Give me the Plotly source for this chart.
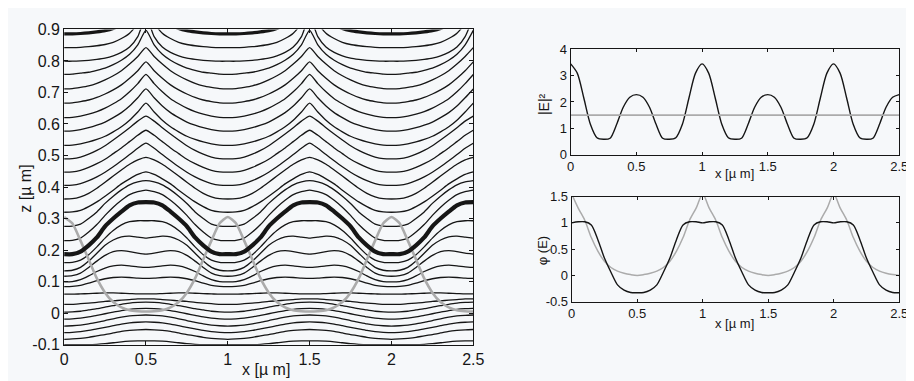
import plotly.graph_objects as go

# ---------------- data ----------------
# Every profile is read at x = 0, 0.05, ..., 0.5 (half a period); the
# figure is periodic (period 1) and mirror-symmetric about x = 0.5.
X_HALF = [0.0, 0.05, 0.1, 0.15, 0.2, 0.25, 0.3, 0.35, 0.4, 0.45, 0.5]

# contour lines above the thick interface line (top to bottom)
U16 = [0.886, 0.886, 0.887, 0.889, 0.892, 0.896, 0.903, 0.915, 0.932, 0.965, 1.03]
U15 = [0.842, 0.842, 0.843, 0.845, 0.848, 0.852, 0.859, 0.871, 0.888, 0.921, 0.985]
U14 = [0.799, 0.799, 0.800, 0.802, 0.805, 0.809, 0.816, 0.827, 0.844, 0.877, 0.940]
U13 = [0.757, 0.758, 0.761, 0.764, 0.770, 0.777, 0.788, 0.802, 0.821, 0.851, 0.897]
U12 = [0.711, 0.712, 0.716, 0.721, 0.729, 0.740, 0.753, 0.769, 0.790, 0.814, 0.842]
U11 = [0.666, 0.667, 0.671, 0.676, 0.684, 0.695, 0.708, 0.724, 0.745, 0.769, 0.797]
U10 = [0.620, 0.621, 0.625, 0.631, 0.639, 0.650, 0.664, 0.680, 0.702, 0.728, 0.757]
U9 = [0.577, 0.578, 0.582, 0.588, 0.596, 0.606, 0.620, 0.636, 0.657, 0.683, 0.711]
U8 = [0.532, 0.533, 0.537, 0.543, 0.551, 0.561, 0.575, 0.591, 0.612, 0.638, 0.666]
U7 = [0.489, 0.490, 0.495, 0.504, 0.516, 0.531, 0.549, 0.568, 0.588, 0.609, 0.625]
U6 = [0.447, 0.448, 0.453, 0.462, 0.474, 0.488, 0.506, 0.524, 0.544, 0.564, 0.580]
U5 = [0.405, 0.406, 0.411, 0.420, 0.432, 0.447, 0.464, 0.483, 0.503, 0.523, 0.539]
U4 = [0.362, 0.363, 0.369, 0.380, 0.396, 0.415, 0.435, 0.454, 0.472, 0.486, 0.494]
U3 = [0.320, 0.321, 0.326, 0.338, 0.353, 0.371, 0.390, 0.410, 0.426, 0.440, 0.448]
U2 = [0.275, 0.276, 0.282, 0.300, 0.321, 0.348, 0.371, 0.391, 0.407, 0.416, 0.420]
U1 = [0.230, 0.231, 0.238, 0.257, 0.281, 0.310, 0.336, 0.358, 0.376, 0.385, 0.390]

# thick interface line
THICK = [0.187, 0.187, 0.195, 0.215, 0.240, 0.275, 0.300, 0.322, 0.342, 0.351, 0.352]

# lines between the interface and the flat line
M1 = [0.160, 0.161, 0.168, 0.185, 0.210, 0.238, 0.262, 0.280, 0.290, 0.293, 0.293]
M2 = [0.134, 0.136, 0.145, 0.165, 0.190, 0.215, 0.232, 0.242, 0.244, 0.241, 0.238]
M3 = [0.117, 0.119, 0.127, 0.145, 0.165, 0.183, 0.195, 0.198, 0.195, 0.190, 0.187]
M4 = [0.099, 0.100, 0.106, 0.118, 0.132, 0.143, 0.150, 0.152, 0.150, 0.147, 0.145]
M5 = [0.084, 0.085, 0.088, 0.095, 0.103, 0.109, 0.113, 0.114, 0.113, 0.111, 0.110]
FLAT = [0.060, 0.060, 0.061, 0.062, 0.063, 0.064, 0.064, 0.063, 0.062, 0.061, 0.061]

# lines below the flat line
L1 = [0.028, 0.028, 0.030, 0.032, 0.034, 0.037, 0.039, 0.041, 0.043, 0.045, 0.045]
L2 = [0.003, 0.004, 0.006, 0.010, 0.014, 0.019, 0.024, 0.028, 0.032, 0.034, 0.035]
L3 = [-0.019, -0.018, -0.016, -0.012, -0.007, -0.002, 0.003, 0.008, 0.012, 0.014, 0.015]
L4 = [-0.041, -0.040, -0.038, -0.034, -0.029, -0.024, -0.018, -0.013, -0.009, -0.007, -0.006]
L5 = [-0.062, -0.061, -0.059, -0.055, -0.050, -0.045, -0.040, -0.035, -0.031, -0.029, -0.028]
L6 = [-0.083, -0.082, -0.080, -0.077, -0.072, -0.068, -0.063, -0.058, -0.055, -0.053, -0.052]
L7 = [-0.100, -0.100, -0.100, -0.100, -0.099, -0.097, -0.094, -0.091, -0.089, -0.088, -0.088]

# grey intensity profile drawn in the main panel
MAIN_GREY = [0.305, 0.285, 0.230, 0.170, 0.110, 0.065, 0.035, 0.018, 0.009, 0.006, 0.005]

# right top: |E|^2 and its mean
E2 = [3.45, 3.10, 2.15, 1.15, 0.64, 0.58, 0.62, 1.15, 1.80, 2.18, 2.28]
E2_MEAN_X = [0.0, 2.5]
E2_MEAN_Y = [1.5, 1.5]

# right bottom: phi(E) (black) and grey reference
PHI = [1.00, 1.02, 1.02, 0.96, 0.68, 0.33, 0.06, -0.18, -0.28, -0.325, -0.33]
PHI_GREY = [1.55, 1.28, 1.05, 0.72, 0.46, 0.27, 0.15, 0.08, 0.04, 0.015, 0.0]

X_TICKS = [0, 0.5, 1, 1.5, 2, 2.5]
X_TICK_TEXT = ["0", "0.5", "1", "1.5", "2", "2.5"]
Z_TICKS = [-0.1, 0, 0.1, 0.2, 0.3, 0.4, 0.5, 0.6, 0.7, 0.8, 0.9]
Z_TICK_TEXT = ["-0.1", "0", "0.1", "0.2", "0.3", "0.4", "0.5", "0.6", "0.7", "0.8", "0.9"]
E2_TICKS = [0, 1, 2, 3, 4]
E2_TICK_TEXT = ["0", "1", "2", "3", "4"]
PHI_TICKS = [-0.5, 0, 0.5, 1, 1.5]
PHI_TICK_TEXT = ["-0.5", "0", "0.5", "1", "1.5"]

X_MAX = 2.5
STEP = X_HALF[1] - X_HALF[0]
N_HALF = len(X_HALF) - 1


def unfold(profile):
    """Place a half-period profile onto 0..2.5 using the period/mirror symmetry."""
    n = int(round(X_MAX / STEP)) + 1
    xs, ys = [], []
    for i in range(n):
        k = i % (2 * N_HALF)
        k = k if k <= N_HALF else 2 * N_HALF - k
        xs.append(round(i * STEP, 4))
        ys.append(profile[k])
    return xs, ys


FONT = "Liberation Sans, Arial, Helvetica, sans-serif"
INK = "#161616"
GREY = "#ababab"
BG = "#f6f8fa"

fig = go.Figure()


def add(profile, xa, ya, color=INK, width=1.3, smooth=0.6):
    xs, ys = unfold(profile)
    fig.add_trace(go.Scatter(x=xs, y=ys, mode="lines", xaxis=xa, yaxis=ya,
                             line=dict(color=color, width=width, shape="spline",
                                       smoothing=smooth),
                             hoverinfo="skip", showlegend=False))


for prof in [U16, U15, U14, U13, U12, U11, U10, U9, U8, U7, U6, U5, U4, U3, U2, U1]:
    add(prof, "x", "y", width=3.2 if prof is U16 else 1.3)
for prof in [M1, M2, M3, M4, M5, FLAT, L1, L2, L3, L4, L5, L6, L7]:
    add(prof, "x", "y")
add(MAIN_GREY, "x", "y", color=GREY, width=2.6)
add(THICK, "x", "y", width=4.2)

# right top
add(E2, "x2", "y2", width=1.4, smooth=0.8)
fig.add_trace(go.Scatter(x=E2_MEAN_X, y=E2_MEAN_Y, mode="lines", xaxis="x2", yaxis="y2",
                         line=dict(color=GREY, width=1.6), hoverinfo="skip",
                         showlegend=False))

# right bottom
add(PHI_GREY, "x3", "y3", color=GREY, width=1.5, smooth=0.8)
add(PHI, "x3", "y3", width=1.4, smooth=0.8)

axis_common = dict(showline=True, linecolor=INK, linewidth=1, mirror="ticks",
                   ticks="inside", ticklen=4, tickwidth=1, tickcolor=INK,
                   showgrid=False, zeroline=False, fixedrange=True,
                   tickfont=dict(family=FONT, size=16, color=INK))
small_axis = dict(axis_common, tickfont=dict(family=FONT, size=13, color=INK), ticklen=3)

fig.update_layout(
    width=914, height=381, autosize=False,
    margin=dict(l=0, r=0, t=0, b=0),
    paper_bgcolor=BG, plot_bgcolor=BG,
    xaxis=dict(axis_common, domain=[53 / 914, 469 / 914], range=[0, 2.5],
               tickvals=X_TICKS, ticktext=X_TICK_TEXT, anchor="y"),
    yaxis=dict(axis_common, domain=[1 - 344 / 381, 1 - 14 / 381], range=[-0.1, 0.9],
               tickvals=Z_TICKS, ticktext=Z_TICK_TEXT, anchor="x"),
    xaxis2=dict(small_axis, domain=[568 / 914, 902 / 914], range=[0, 2.5],
                tickvals=X_TICKS, ticktext=X_TICK_TEXT, anchor="y2"),
    yaxis2=dict(small_axis, domain=[1 - 145 / 381, 1 - 35 / 381], range=[0, 4],
                tickvals=E2_TICKS, ticktext=E2_TICK_TEXT, anchor="x2"),
    xaxis3=dict(small_axis, domain=[569 / 914, 902 / 914], range=[0, 2.5],
                tickvals=X_TICKS, ticktext=X_TICK_TEXT, anchor="y3"),
    yaxis3=dict(small_axis, domain=[1 - 299 / 381, 1 - 189 / 381], range=[-0.5, 1.5],
                tickvals=PHI_TICKS, ticktext=PHI_TICK_TEXT, anchor="x3"),
)


def label(text, px, py, size, angle=0):
    fig.add_annotation(text=text, x=px / 914, y=1 - py / 381, xref="paper", yref="paper",
                       showarrow=False, textangle=angle,
                       font=dict(family=FONT, size=size, color=INK),
                       xanchor="center", yanchor="middle")


label("z [µ m]", 14, 181, 16, -90)
label("x [µ m]", 258, 370, 16)
label("|E|²", 541, 92, 14, -90)
label("x [µ m]", 735, 165, 13)
label("φ (E)", 539, 246, 13, -90)
label("x [µ m]", 735, 322, 13)

fig.write_html("out.html")
